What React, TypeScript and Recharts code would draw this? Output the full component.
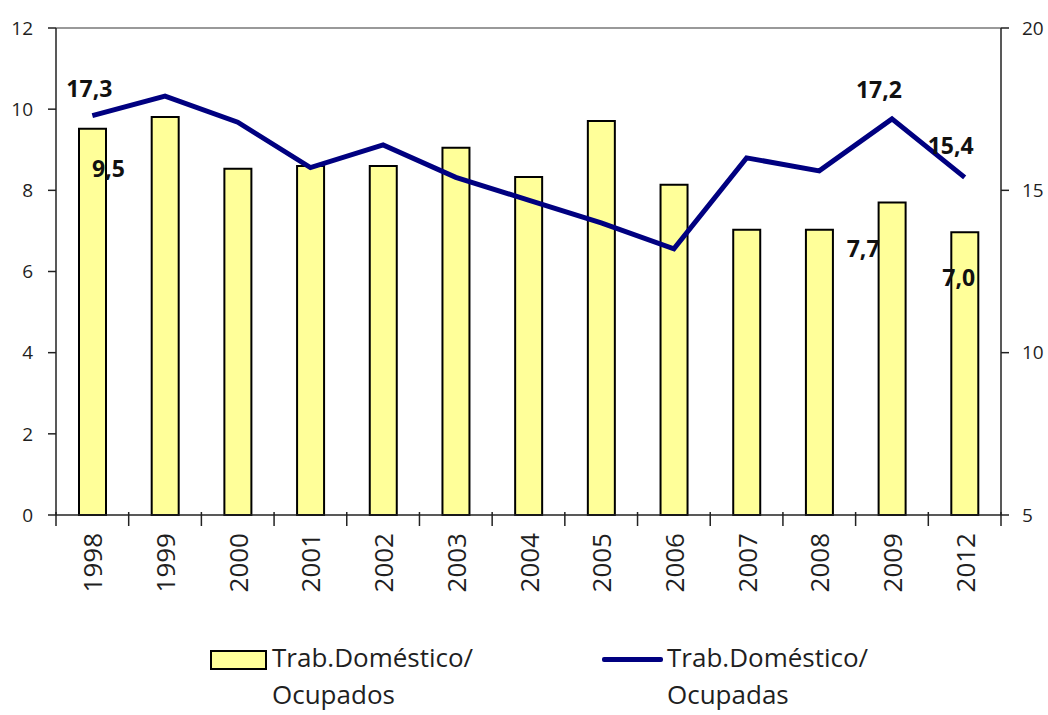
import React from 'react';
import { ComposedChart, Bar, Line, XAxis, YAxis, LabelList, ReferenceLine, Legend } from 'recharts';

const years = ['1998', '1999', '2000', '2001', '2002', '2003', '2004', '2005', '2006', '2007', '2008', '2009', '2012'];
const ocupados = [9.52, 9.81, 8.53, 8.6, 8.6, 9.05, 8.33, 9.71, 8.14, 7.03, 7.03, 7.7, 6.97];
const ocupadas = [17.3, 17.9, 17.1, 15.7, 16.4, 15.4, 14.7, 14.0, 13.2, 16.0, 15.6, 17.2, 15.4];
const leftTicks = [0, 2, 4, 6, 8, 10, 12];
const rightTicks = [5, 10, 15, 20];
const barName = 'Trab.Doméstico/ Ocupados';
const lineName = 'Trab.Doméstico/ Ocupadas';
const barLabelIdx = [0, 11, 12];
const lineLabelIdx = [0, 11, 12];

const data = years.map((y, i) => ({ year: y, ocupados: ocupados[i], ocupadas: ocupadas[i] }));

const FONT = '"Open Sans", "Noto Sans", sans-serif';
const fmt = (v: number) => v.toFixed(1).replace('.', ',');

const XTick = (props: any) => {
  const { x, y, payload, index, visibleTicksCount } = props;
  const off = payload && payload.offset ? payload.offset : 945 / 13 / 2;
  const last = index === (visibleTicksCount ?? years.length) - 1;
  return (
    <g>
      <line x1={x - off} x2={x - off} y1={y - 3} y2={y + 11} stroke="#222" strokeWidth={1.5} />
      {last && <line x1={x + off} x2={x + off} y1={y - 3} y2={y + 11} stroke="#222" strokeWidth={1.5} />}
      <text
        x={x}
        y={y + 18}
        transform={`rotate(-90, ${x}, ${y + 18})`}
        textAnchor="end"
        dominantBaseline="central"
        fontSize={26}
        fontFamily={FONT}
        fill="#1f1f1f"
      >
        {payload.value}
      </text>
    </g>
  );
};

const barLabel = (props: any) => {
  const { x, y, width, value, index } = props;
  if (!barLabelIdx.includes(index)) return null;
  const cx = x + width / 2;
  let dx = 0;
  let dy = 50;
  if (index === 0) { dx = 16; dy = 48; }
  if (index === 11) { dx = -29; dy = 54; }
  if (index === 12) { dx = -6; dy = 54; }
  return (
    <text x={cx + dx} y={y + dy} textAnchor="middle" fontSize={23} fontWeight="bold" fontFamily={FONT} fill="#111">
      {fmt(value)}
    </text>
  );
};

const lineLabel = (props: any) => {
  const { x, y, value, index } = props;
  if (!lineLabelIdx.includes(index)) return null;
  let dx = 0;
  let dy = -20;
  if (index === 0) { dx = -3; dy = -19; }
  if (index === 11) { dx = -13; dy = -21; }
  if (index === 12) { dx = -14; dy = -23; }
  return (
    <text x={x + dx} y={y + dy} textAnchor="middle" fontSize={23} fontWeight="bold" fontFamily={FONT} fill="#111">
      {fmt(value)}
    </text>
  );
};

const LegendContent = () => {
  const [b1, b2] = barName.split(' ');
  const [l1, l2] = lineName.split(' ');
  const textStyle: React.CSSProperties = {
    position: 'absolute',
    top: 0,
    fontSize: 26,
    lineHeight: '37px',
    fontFamily: FONT,
    color: '#1f1f1f',
    whiteSpace: 'nowrap',
  };
  return (
    <div style={{ position: 'relative', width: 1048, height: 74 }}>
      <div style={{ position: 'absolute', left: 210, top: 11, width: 53, height: 16, border: '2px solid #000', background: '#FFFF99' }} />
      <div style={{ ...textStyle, left: 272 }}>{b1}<br />{b2}</div>
      <div style={{ position: 'absolute', left: 602, top: 18, width: 61, height: 5, borderRadius: 2, background: '#000080' }} />
      <div style={{ ...textStyle, left: 667 }}>{l1}<br />{l2}</div>
    </div>
  );
};

export default function App() {
  return (
    <div style={{ position: 'absolute', left: 0, top: 0, background: '#fff' }}>
      <ComposedChart width={1048} height={715} data={data} margin={{ top: 28, right: 0, bottom: 0, left: 0 }}>
        <XAxis
          dataKey="year"
          height={200}
          tickSize={0}
          tickMargin={0}
          tickLine={false}
          axisLine={{ stroke: '#222', strokeWidth: 1.5 }}
          tick={<XTick />}
          interval={0}
        />
        <YAxis
          yAxisId="left"
          domain={[0, 12]}
          ticks={leftTicks}
          width={56}
          tickSize={8}
          tickMargin={15}
          axisLine={{ stroke: '#222', strokeWidth: 1.5 }}
          tickLine={{ stroke: '#222', strokeWidth: 1.5 }}
          tick={{ fontSize: 19, fontFamily: FONT, fill: '#1f1f1f' }}
        />
        <YAxis
          yAxisId="right"
          orientation="right"
          domain={[5, 20]}
          ticks={rightTicks}
          width={47}
          tickSize={8}
          tickMargin={13}
          axisLine={{ stroke: '#222', strokeWidth: 1.5 }}
          tickLine={{ stroke: '#222', strokeWidth: 1.5 }}
          tick={{ fontSize: 19, fontFamily: FONT, fill: '#1f1f1f', textAnchor: 'start' }}
        />
        <ReferenceLine yAxisId="left" y={12} stroke="#999" strokeWidth={2} />
        <Legend verticalAlign="middle" align="center" content={<LegendContent />} wrapperStyle={{ top: 639, left: 0, width: 1048 }} />
        <Bar
          yAxisId="left"
          dataKey="ocupados"
          name={barName}
          barSize={27}
          fill="#FFFF99"
          stroke="#000"
          strokeWidth={2}
          isAnimationActive={false}
        >
          <LabelList dataKey="ocupados" content={barLabel} />
        </Bar>
        <Line
          yAxisId="right"
          dataKey="ocupadas"
          name={lineName}
          type="linear"
          stroke="#000080"
          strokeWidth={5}
          dot={false}
          activeDot={false}
          isAnimationActive={false}
        >
          <LabelList dataKey="ocupadas" content={lineLabel} />
        </Line>
      </ComposedChart>
    </div>
  );
}
